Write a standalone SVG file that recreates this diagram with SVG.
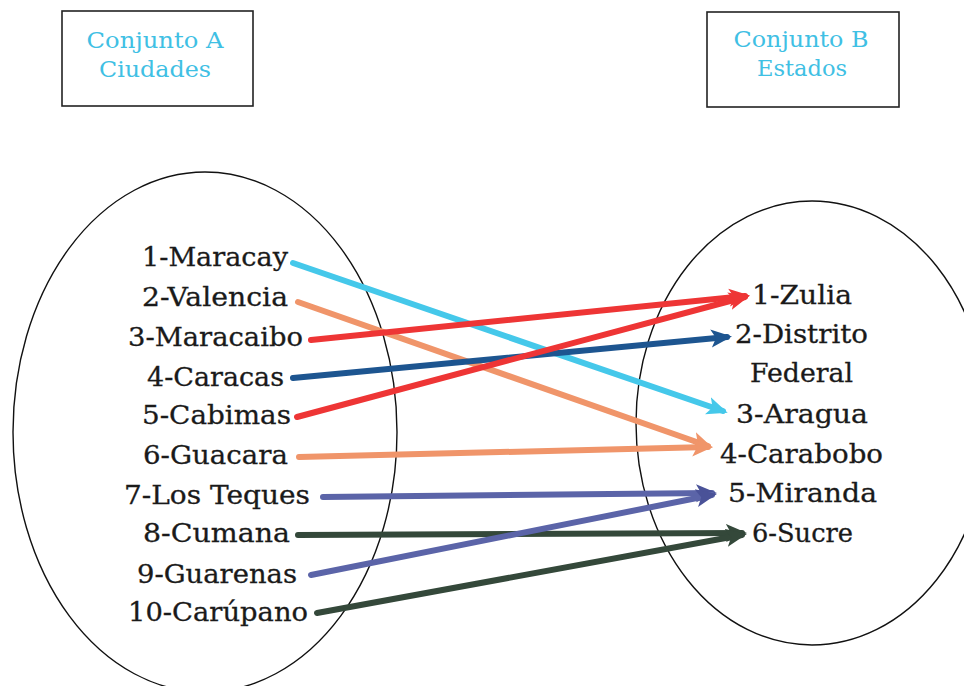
<svg xmlns="http://www.w3.org/2000/svg" width="964" height="686" viewBox="0 0 964 686">
<style>
.box{fill:#fff;stroke:#222;stroke-width:1.6}
.set{fill:none;stroke:#111;stroke-width:1.4}
.ttl{font-family:"DejaVu Serif","Liberation Serif",serif;font-size:23px;fill:#3fc0e4;text-anchor:middle}
.lbl{font-family:"DejaVu Serif","Liberation Serif",serif;font-size:26.5px;fill:#1a1a1a;stroke:#1a1a1a;stroke-width:0.3;text-anchor:middle}
.c{fill:none;stroke-linecap:round;stroke-width:6}
</style>
<defs>
<marker id="aCyan" markerUnits="userSpaceOnUse" markerWidth="24" markerHeight="20" refX="16" refY="10" orient="auto"><path d="M0,1 L21,10 L0,19 L5,10 z" fill="#45c8ea"/></marker>
<marker id="aOrange" markerUnits="userSpaceOnUse" markerWidth="24" markerHeight="20" refX="16" refY="10" orient="auto"><path d="M0,1 L21,10 L0,19 L5,10 z" fill="#f0956a"/></marker>
<marker id="aRed" markerUnits="userSpaceOnUse" markerWidth="24" markerHeight="20" refX="16" refY="10" orient="auto"><path d="M0,1 L21,10 L0,19 L5,10 z" fill="#ee3535"/></marker>
<marker id="aBlue" markerUnits="userSpaceOnUse" markerWidth="24" markerHeight="20" refX="16" refY="10" orient="auto"><path d="M0,1 L21,10 L0,19 L5,10 z" fill="#1d5590"/></marker>
<marker id="aSlate" markerUnits="userSpaceOnUse" markerWidth="24" markerHeight="20" refX="16" refY="10" orient="auto"><path d="M0,1 L21,10 L0,19 L5,10 z" fill="#4a5298"/></marker>
<marker id="aGreen" markerUnits="userSpaceOnUse" markerWidth="24" markerHeight="20" refX="16" refY="10" orient="auto"><path d="M0,1 L21,10 L0,19 L5,10 z" fill="#34483a"/></marker>
</defs>
<rect width="964" height="686" fill="#fff"/>

<g id="titleA">
<rect class="box" x="62" y="11" width="191" height="95"/>
<text class="ttl" x="155" y="48" textLength="137" lengthAdjust="spacingAndGlyphs">Conjunto A</text>
<text class="ttl" x="155" y="77" textLength="112" lengthAdjust="spacingAndGlyphs">Ciudades</text>
</g>
<g id="titleB">
<rect class="box" x="707" y="12" width="192" height="95"/>
<text class="ttl" x="801" y="47" textLength="135" lengthAdjust="spacingAndGlyphs">Conjunto B</text>
<text class="ttl" x="802" y="76" textLength="90" lengthAdjust="spacingAndGlyphs">Estados</text>
</g>

<g id="setA">
<ellipse class="set" cx="205" cy="432" rx="192" ry="260"/>
<text class="lbl" x="215" y="266" textLength="146" lengthAdjust="spacingAndGlyphs">1-Maracay</text>
<text class="lbl" x="215" y="306" textLength="146" lengthAdjust="spacingAndGlyphs">2-Valencia</text>
<text class="lbl" x="215.5" y="346" textLength="175" lengthAdjust="spacingAndGlyphs">3-Maracaibo</text>
<text class="lbl" x="215.5" y="386" textLength="137" lengthAdjust="spacingAndGlyphs">4-Caracas</text>
<text class="lbl" x="216.5" y="424" textLength="149" lengthAdjust="spacingAndGlyphs">5-Cabimas</text>
<text class="lbl" x="215.5" y="464" textLength="145" lengthAdjust="spacingAndGlyphs">6-Guacara</text>
<text class="lbl" x="217" y="504" textLength="186" lengthAdjust="spacingAndGlyphs">7-Los Teques</text>
<text class="lbl" x="216.5" y="542" textLength="147" lengthAdjust="spacingAndGlyphs">8-Cumana</text>
<text class="lbl" x="217" y="583" textLength="160" lengthAdjust="spacingAndGlyphs">9-Guarenas</text>
<text class="lbl" x="218" y="621" textLength="180" lengthAdjust="spacingAndGlyphs">10-Carúpano</text>
</g>

<g id="setB">
<ellipse class="set" cx="812" cy="423" rx="176" ry="222"/>
<text class="lbl" x="802" y="304" textLength="100" lengthAdjust="spacingAndGlyphs">1-Zulia</text>
<text class="lbl" x="801.5" y="343" textLength="133" lengthAdjust="spacingAndGlyphs">2-Distrito</text>
<text class="lbl" x="801.5" y="382" textLength="103" lengthAdjust="spacingAndGlyphs">Federal</text>
<text class="lbl" x="802" y="423" textLength="132" lengthAdjust="spacingAndGlyphs">3-Aragua</text>
<text class="lbl" x="801.5" y="463" textLength="163" lengthAdjust="spacingAndGlyphs">4-Carabobo</text>
<text class="lbl" x="802.5" y="502" textLength="149" lengthAdjust="spacingAndGlyphs">5-Miranda</text>
<text class="lbl" x="802.5" y="542" textLength="101" lengthAdjust="spacingAndGlyphs">6-Sucre</text>
</g>

<g id="connectors">
<path class="c" stroke="#45c8ea" d="M293,263 Q330,275 723,411" marker-end="url(#aCyan)"/>
<line class="c" stroke="#f0956a" x1="298" y1="302" x2="708" y2="446" marker-end="url(#aOrange)"/>
<line class="c" stroke="#ee3535" x1="311" y1="340" x2="745" y2="296" marker-end="url(#aRed)"/>
<line class="c" stroke="#1d5590" x1="293" y1="378" x2="727" y2="337" marker-end="url(#aBlue)"/>
<line class="c" stroke="#ee3535" x1="297" y1="417" x2="745" y2="297" marker-end="url(#aRed)"/>
<line class="c" stroke="#f0956a" x1="299" y1="457" x2="708" y2="447" marker-end="url(#aOrange)"/>
<line class="c" stroke="#5b64a8" stroke-width="5" x1="323" y1="497" x2="712" y2="493" marker-end="url(#aSlate)"/>
<line class="c" stroke="#34483a" stroke-width="5" x1="298" y1="535" x2="742" y2="533" marker-end="url(#aGreen)"/>
<line class="c" stroke="#5b64a8" x1="311" y1="575" x2="712" y2="495" marker-end="url(#aSlate)"/>
<line class="c" stroke="#34483a" x1="317" y1="613" x2="742" y2="535" marker-end="url(#aGreen)"/>
</g>
</svg>
